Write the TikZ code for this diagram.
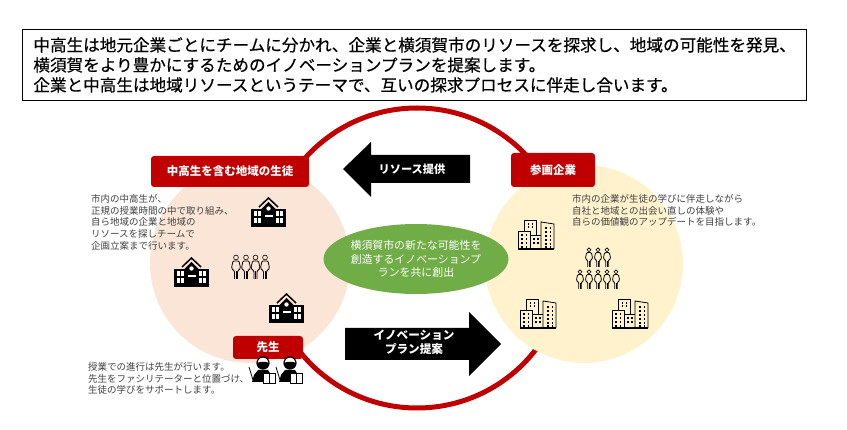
\documentclass[tikz,border=0pt]{standalone}
\usepackage{fontspec}
\setmainfont{Noto Sans CJK JP}
\newfontfamily\leadfont[FakeBold=.5]{Noto Sans CJK JP}
\usepackage{xcolor}
\usepackage{tikz}
\usetikzlibrary{shapes.geometric}
\definecolor{ringred}{HTML}{C00000}
\definecolor{studentpink}{HTML}{FBE5D6}
\definecolor{companycream}{HTML}{FFF2CC}
\definecolor{leafgreen}{HTML}{70AD47}
\definecolor{notegray}{HTML}{404040}
\tikzset{
school/.pic={
\fill (0,-18) rectangle (35,0);
\draw[line width=1.5pt] (8,-20)--(17.5,-29)--(27,-20);
\fill (10.5,-18)--(17.5,-25)--(24.5,-18)--(24.5,0)--(10.5,0)--cycle;
\fill[white] (17.5,-18.5) circle (2.2);
\fill[white] (13.5,-11.5) rectangle (21.5,-10);
\foreach \xa in {2.5,6.5,24.5,28.5} \foreach \ya in {-15.5,-9} \fill[white] (\xa,\ya) rectangle +(3.2,5);
},
building/.pic={
\draw[line width=.8pt] (6,-18)--(6,-29)--(18,-29)--(18,-14);
\draw[line width=.8pt] (0,0)--(0,-18)--(12,-18)--(12,0);
\draw[line width=.8pt] (12,-14)--(23,-14);
\draw[line width=.8pt] (23,0)--(23,-27)--(36,-25)--(36,0);
\draw[line width=1.1pt] (0,0)--(36,0);
\foreach \xa in {9.5,13.5} \foreach \ya in {-26,-22.5} \fill (\xa,\ya) rectangle +(1.6,1.6);
\foreach \xa in {3,7.5} \foreach \ya in {-15,-11,-7,-3} \fill (\xa,\ya) rectangle +(1.6,1.6);
\foreach \xa in {15,19} \foreach \ya in {-10.5,-6.5} \fill (\xa,\ya) rectangle +(1.6,1.6);
\foreach \xa in {27,31.5} \foreach \ya in {-22,-18,-14,-10,-6,-2.5} \fill (\xa,\ya) rectangle +(1.6,1.6);
},
person/.pic={
\draw[line width=.6pt] (0,-21.5) circle (2.4);
\draw[line width=.8pt,rounded corners=1pt] (-1.5,0)--(-1.5,-8)--(-3,-9)--(-4.5,-11)--(-3,-18)--(3,-18)--(4.5,-11)--(3,-9)--(1.5,-8)--(1.5,0);
\draw[line width=.7pt] (0,0)--(0,-8);
},
teacher/.pic={
\draw[line width=.8pt] (0,-16)--(4,-3);
\fill (3,-1)--(5,-8)--(9,-13)--(19,-13)--(22,-8)--(22,-1)--cycle;
\draw[fill=white,line width=1.2pt] (14,-20) circle (6);
\fill (8,-20) arc (180:0:6)--(17,-21)--(11,-21)--cycle;
\draw[fill=white,line width=.8pt] (14,-10) rectangle (26,0);
\draw[line width=.8pt] (20,-10)--(20,0);
}
}
\begin{document}
\begin{tikzpicture}[x=1pt,y=-1pt,
every node/.style={inner sep=0pt},
redlabel/.style={fill=ringred,rounded corners=3pt,text=white,font=\fontsize{11.5}{14}\selectfont\bfseries,align=center},
notetext/.style={anchor=north west,align=left,text=notegray,font=\fontsize{9.5}{11.6}\selectfont},
blockarrow/.style={fill=black},
arrowtext/.style={text=white,font=\fontsize{11.6}{14.2}\selectfont\bfseries,align=center}]
\useasboundingbox (0,0) rectangle (847,430);
\node[draw,line width=.8pt,anchor=north west,minimum width=784pt,minimum height=71pt,text width=762pt,align=left,font=\leadfont\fontsize{16.6}{20}\selectfont] (lead) at (22,29) {中高生は地元企業ごとにチームに分かれ、企業と横須賀市のリソースを探求し、地域の可能性を発見、\\横須賀をより豊かにするためのイノベーションプランを提案します。\\企業と中高生は地域リソースというテーマで、互いの探求プロセスに伴走し合います。};
\node[circle,draw=ringred,line width=5pt,minimum size=300pt] (ring) at (417,258) {};
\node[circle,fill=studentpink,minimum size=200pt] (students) at (250,263) {};
\node[circle,fill=companycream,minimum size=198pt] (companies) at (584,264) {};
\node[redlabel,minimum width=158pt,minimum height=31pt] (studentlabel) at (230,171.5) {中高生を含む地域の生徒};
\node[redlabel,minimum width=84pt,minimum height=34pt] (companylabel) at (553,170) {参画企業};
\node[redlabel,minimum width=70pt,minimum height=23pt] (teacherlabel) at (268,347.5) {先生};
\node[ellipse,fill=leafgreen,minimum width=182pt,minimum height=70pt,text=white,align=center,font=\fontsize{10.9}{13.6}\selectfont] (vision) at (416,259) {横須賀市の新たな可能性を\\創造するイノベーションプ\\ランを共に創出};
\fill[blockarrow] (343,169)--(371,142)--(371,155)--(470,155)--(470,183)--(371,183)--(371,197)--cycle;
\node[arrowtext,font=\fontsize{11.2}{14}\selectfont\bfseries] (resource) at (412,169) {リソース提供};
\fill[blockarrow] (501,344)--(469,312)--(469,328)--(345,328)--(345,360)--(469,360)--(469,376)--cycle;
\node[arrowtext] (proposal) at (414,342.5) {イノベーション\\プラン提案};
\node[notetext] (studentnote) at (91,194.5) {市内の中高生が、\\正規の授業時間の中で取り組み、\\自ら地域の企業と地域の\\リソースを探しチームで\\企画立案まで行います。};
\node[notetext] (companynote) at (572,194.5) {市内の企業が生徒の学びに伴走しながら\\自社と地域との出会い直しの体験や\\自らの価値観のアップデートを目指します。};
\node[notetext] (teachernote) at (88,362.5) {授業での進行は先生が行います。\\先生をファシリテーターと位置づけ、\\生徒の学びをサポートします。};
\pic at (251,227) {school};
\pic at (174,287) {school};
\pic at (269,323) {school};
\foreach \xa in {236,246,255.5,265} \pic at (\xa,279) {person};
\pic at (518,249) {building};
\pic at (520,328) {building};
\pic at (612,328) {building};
\foreach \xa in {589,598,607} \pic[scale=.8] at (\xa,267) {person};
\foreach \xa in {580,589,598,607,616} \pic[scale=.8] at (\xa,289) {person};
\pic at (249,383) {teacher};
\pic at (276,383) {teacher};
\end{tikzpicture}
\end{document}
